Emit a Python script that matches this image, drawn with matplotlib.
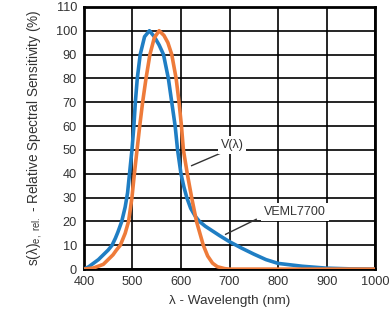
import numpy as np
import matplotlib
matplotlib.use("Agg")
import matplotlib.pyplot as plt

plt.rcParams['font.family'] = ['Liberation Sans', 'DejaVu Sans']
plt.rcParams['mathtext.fontset'] = 'custom'
plt.rcParams['mathtext.rm'] = 'Liberation Sans'
plt.rcParams['mathtext.it'] = 'Liberation Sans:italic'

# VEML7700 (blue)
veml_wl = [400, 410, 420, 430, 440, 450, 458, 465, 470, 478, 485, 490, 494, 499,
           503, 506, 510, 516, 525, 535, 545, 555, 564, 574, 581, 588, 593, 600,
           606, 612, 620, 630, 638, 650, 665, 680, 700, 725, 750, 775, 800,
           850, 900, 950, 1000]
veml_val = [0, 1, 2.5, 4, 6, 8, 10, 13, 15.5, 20, 26, 32, 40, 50,
            60, 70, 80, 90, 97.5, 100, 97.5, 94, 90, 80, 70, 60, 50, 40,
            34.5, 30, 25.5, 22, 20, 18, 16, 14, 11.5, 8.8, 6.3, 4, 2.4,
            1.2, 0.4, 0.1, 0]

# V(lambda) (orange)
v_wl = [400, 420, 440, 450, 460, 467, 475, 485, 492, 499, 504, 509.5, 515, 521,
        528, 536, 545, 555, 565, 573, 581, 590, 596, 601, 605, 613, 622, 632,
        646, 655, 665, 675, 690, 700, 800, 900, 1000]
v_val = [0, 0.5, 2, 4, 6, 8, 10, 15, 20, 30, 40, 50, 60, 70,
         80, 90, 97, 100, 98, 95, 90, 80, 70, 60, 50, 40, 30, 20,
         10, 5.5, 2.5, 1, 0.2, 0, 0, 0, 0]

fig = plt.figure(figsize=(3.92, 3.27), dpi=100)
ax = fig.add_axes([0.214, 0.177, 0.743, 0.802])

ax.plot(veml_wl, veml_val, color='#1f7ec4', lw=2.6, zorder=3,
        solid_joinstyle='round')
ax.plot(v_wl, v_val, color='#ee7b3a', lw=2.6, zorder=4,
        solid_joinstyle='round')

ax.set_xlim(400, 1000)
ax.set_ylim(0, 110)
ax.set_xticks(np.arange(400, 1001, 100))
ax.set_yticks(np.arange(0, 111, 10))
ax.grid(True, color='black', lw=1.2, zorder=1)
ax.set_axisbelow(True)
for s in ax.spines.values():
    s.set_linewidth(2)
ax.tick_params(length=0, labelsize=9.2, colors='#333333', pad=5)

ax.set_xlabel('λ - Wavelength (nm)', fontsize=9.7, color='#333333', labelpad=5)
ax.set_ylabel(r's(λ)$_{\mathrm{e,\ rel.}}$ - Relative Spectral Sensitivity (%)',
              fontsize=9.8, color='#333333', labelpad=8)

# callouts
ax.plot([622, 686], [43.4, 49], color='#333333', lw=1, zorder=5)
ax.text(705, 52, 'V(λ)', fontsize=9, color='#333333', ha='center', va='center',
        bbox=dict(facecolor='white', edgecolor='none', pad=2), zorder=6)
ax.plot([692, 755], [14.6, 20.9], color='#333333', lw=1, zorder=5)
ax.text(835, 24, 'VEML7700', fontsize=9, color='#333333', ha='center', va='center',
        bbox=dict(facecolor='white', edgecolor='none', pad=2), zorder=6)

plt.savefig('out.png', dpi=100)
